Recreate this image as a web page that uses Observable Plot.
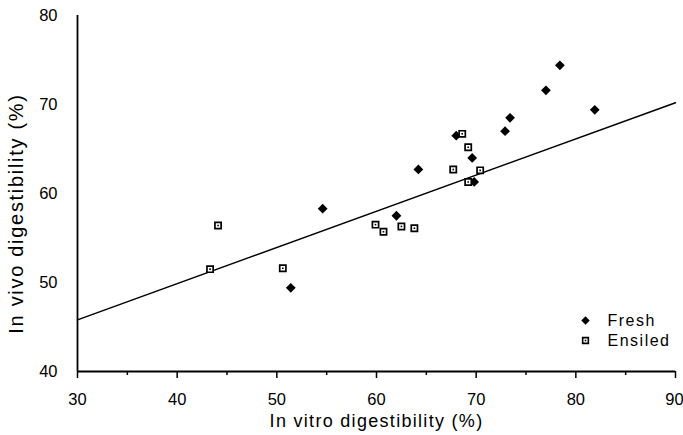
<!DOCTYPE html>
<html><head><meta charset="utf-8">
<script src="https://cdn.jsdelivr.net/npm/d3@7"></script>
<script src="https://cdn.jsdelivr.net/npm/@observablehq/plot@0.6"></script>
<style>body{margin:0;background:#fff} svg{display:block}</style>
</head><body><div id="chart"></div>
<script>
const freshX = [54.6, 51.4, 64.2, 62.0, 68.0, 69.6, 69.8, 78.4, 77.0, 81.9, 73.4, 72.9];
const freshY = [58.3, 49.4, 62.7, 57.5, 66.5, 64.0, 61.3, 74.4, 71.6, 69.4, 68.5, 67.0];
const ensiledX = [44.1, 43.3, 50.6, 59.9, 60.7, 62.5, 63.8, 67.7, 68.6, 69.2, 70.4, 69.2];
const ensiledY = [56.4, 51.5, 51.6, 56.5, 55.7, 56.3, 56.1, 62.7, 66.7, 65.2, 62.6, 61.3];
const fitX = [30, 90];
const fitY = [45.8, 70.2];
const xTicks = [30, 40, 50, 60, 70, 80, 90];
const xMinorTicks = [35, 45, 55, 65, 75, 85];
const yTicks = [40, 50, 60, 70, 80];
const xTitle = "In vitro digestibility (%)";
const yTitle = "In vivo digestibility (%)";
const legendNames = ["Fresh", "Ensiled"];

const fresh = freshX.map((x, i) => ({x, y: freshY[i]}));
const ensiled = ensiledX.map((x, i) => ({x, y: ensiledY[i]}));
const fit = fitX.map((x, i) => ({x, y: fitY[i]}));

const font = "'Liberation Sans', Arial, sans-serif";

const plot = Plot.plot({
  width: 683,
  height: 435,
  marginLeft: 77,
  marginRight: 8,
  marginTop: 15,
  marginBottom: 64,
  style: {fontFamily: font, background: "#fff", color: "#000"},
  x: {domain: [30, 90], axis: null},
  y: {domain: [40, 80], axis: null},
  marks: [
    Plot.axisX({ticks: xMinorTicks, tickSize: 4, text: null, label: null, strokeWidth: 1.5}),
    Plot.axisX({ticks: xTicks, tickSize: 7, tickPadding: 15, tickFormat: d => String(d), fontSize: 16.5, strokeWidth: 1.5, label: null}),
    Plot.axisY({ticks: yTicks, tickSize: 0, tickPadding: 20, tickFormat: d => String(d), fontSize: 16.5, label: null}),
    Plot.ruleY([40], {x1: 30, x2: 90, strokeWidth: 1.8}),
    Plot.ruleX([30], {y1: 40, y2: 80, strokeWidth: 1.8}),
    Plot.line(fit, {x: "x", y: "y", stroke: "#000", strokeWidth: 1.5}),
    Plot.dot(fresh, {x: "x", y: "y", symbol: "diamond2", r: 4.4, fill: "#000", stroke: "none"}),
    Plot.dot(ensiled, {x: "x", y: "y", symbol: "square", r: 3.5, fill: "#fff", stroke: "#000", strokeWidth: 1.7}),
    Plot.dot(ensiled, {x: "x", y: "y", symbol: "square", r: 0.9, fill: "#000", stroke: "none"}),
    // legend
    Plot.dot([legendNames[0]], {frameAnchor: "bottom-right", dx: -90, dy: -51, symbol: "diamond2", r: 3.8, fill: "#000", stroke: "none"}),
    Plot.dot([legendNames[1]], {frameAnchor: "bottom-right", dx: -90, dy: -31, symbol: "square", r: 3.2, fill: "#fff", stroke: "#000", strokeWidth: 1.6}),
    Plot.dot([legendNames[1]], {frameAnchor: "bottom-right", dx: -90, dy: -31, symbol: "square", r: 0.9, fill: "#000", stroke: "none"}),
    Plot.text([legendNames[0]], {text: d => d, frameAnchor: "bottom-right", dx: -68, dy: -51, textAnchor: "start", lineAnchor: "middle", fontSize: 16, fill: "#000"}),
    Plot.text([legendNames[1]], {text: d => d, frameAnchor: "bottom-right", dx: -68, dy: -31, textAnchor: "start", lineAnchor: "middle", fontSize: 16, fill: "#000"}),
    // titles
    Plot.text([xTitle], {text: d => d, frameAnchor: "bottom", dy: 50, textAnchor: "middle", lineAnchor: "middle", fontSize: 18, fill: "#000"}),
    Plot.text([yTitle], {text: d => d, frameAnchor: "left", dx: -61, dy: 20, rotate: -90, textAnchor: "middle", lineAnchor: "middle", fontSize: 20, fill: "#000"})
  ]
});

const svg = d3.select(plot);
const spacing = {};
spacing[legendNames[0]] = "1.5px";
spacing[legendNames[1]] = "1.5px";
spacing[xTitle] = "1.3px";
spacing[yTitle] = "1.7px";
svg.selectAll("text").each(function () {
  const t = this.textContent;
  if (spacing[t]) this.setAttribute("letter-spacing", spacing[t]);
  if (t === "90") this.setAttribute("dx", "-1");
});
document.getElementById("chart").appendChild(plot);
</script>
</body></html>
